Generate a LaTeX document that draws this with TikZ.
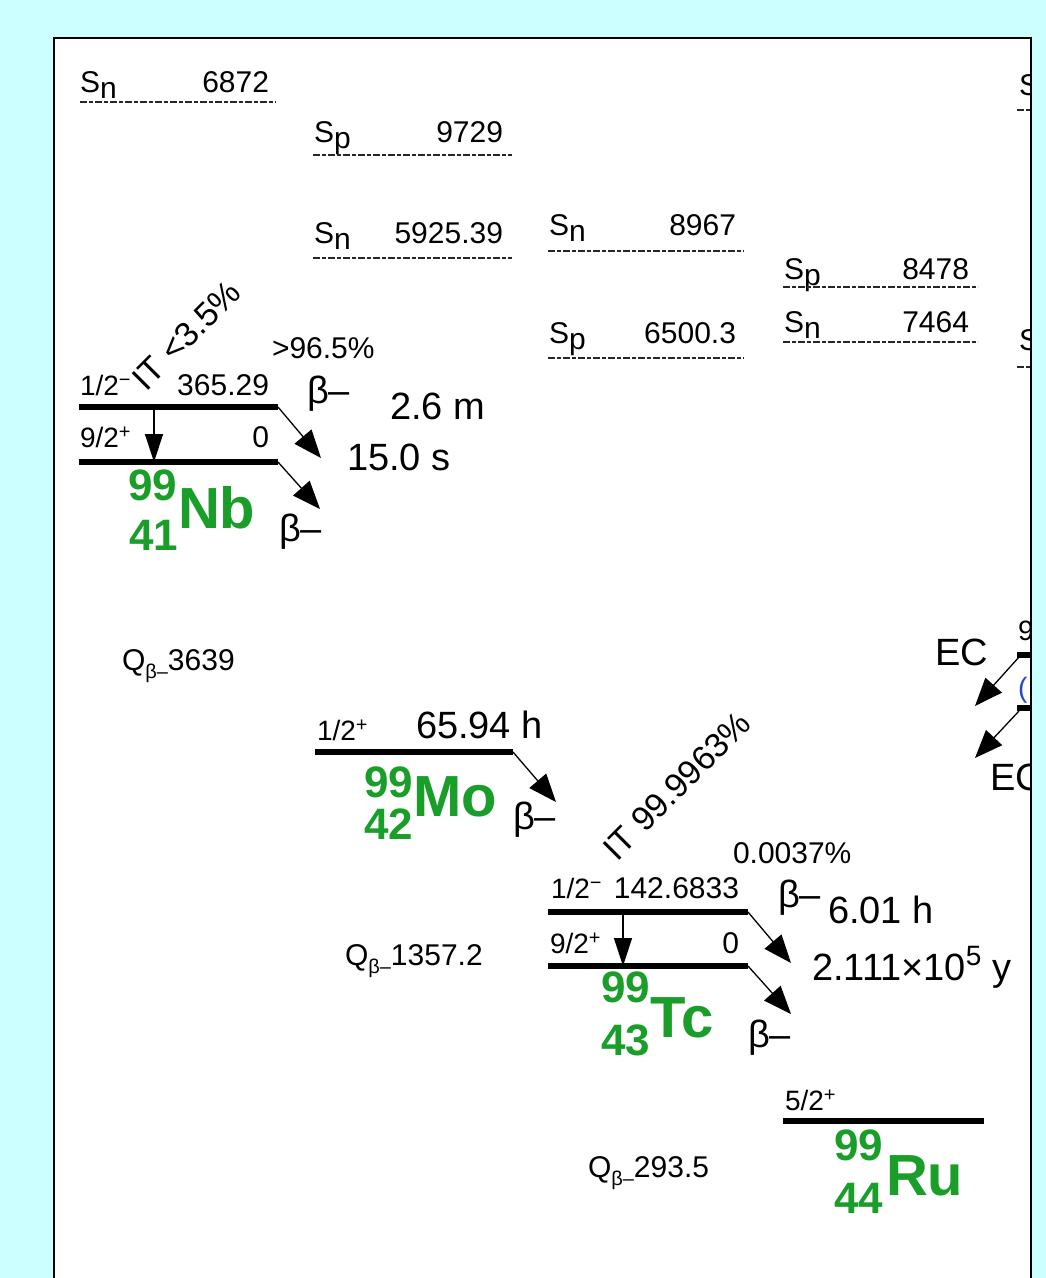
\documentclass[tikz,border=0pt]{standalone}
\usepackage{fontspec}
\setmainfont{Liberation Sans}
\usetikzlibrary{arrows.meta}
\definecolor{bgcyan}{RGB}{204,255,255}
\definecolor{nucgreen}{RGB}{26,158,42}
\definecolor{ecblue}{RGB}{40,70,190}
\newcommand\myfA{\fontsize{30}{30}\selectfont}
\newcommand\myfB{\fontsize{38}{38}\selectfont}
\newcommand\myfC{\fontsize{28}{28}\selectfont}
\newcommand\myfQ{\fontsize{30}{30}\selectfont}
\newcommand\myfS{\fontsize{20}{20}\selectfont}
\newcommand\myfN{\fontsize{58}{58}\selectfont\bfseries}
\newcommand\myfZ{\fontsize{44}{44}\selectfont\bfseries}
\newcommand\myspin[2]{#1\raisebox{9pt}{\myfS #2}}
\newcommand\mysub[1]{\raisebox{-6pt}{#1}}
\newcommand\myQ[1]{Q\raisebox{-8pt}{\myfS β–}#1}
\begin{document}
\begin{tikzpicture}[x=1pt,y=-1pt,
  every node/.style={inner sep=0pt, outer sep=0pt},
  lab/.style={font=\myfA},
  big/.style={font=\myfB},
  spinlab/.style={font=\myfC},
  qlab/.style={font=\myfQ},
  nuc/.style={font=\myfN, text=nucgreen},
  nucnum/.style={font=\myfZ, text=nucgreen},
  lvl/.style={line width=6pt},
  sepline/.style={line width=1.5pt, black!85, dash pattern=on 7pt off 2pt on 4pt off 2pt},
  decay/.style={line width=1.3pt, -{Triangle[length=28pt,width=22pt]}},
  itarrow/.style={line width=1.3pt, -{Triangle[length=28pt,width=18pt]}},
  rot/.style={font=\fontsize{34}{34}\selectfont, rotate=45, anchor=base west}
]
\useasboundingbox (0,0) rectangle (1046,1278);
\fill[bgcyan] (0,0) rectangle (1046,1278);
\fill[white] (54,38) rectangle (1031,1278);
\begin{scope}
\clip (54,38) rectangle (1031,1278);
% ---------- separation energies ----------
\node[lab, anchor=base west] (snA) at (80,92) {S\mysub{n}};
\node[lab, anchor=base east] (snAv) at (269,92) {6872};
\coordinate (snAl) at (80,102); \coordinate (snAr) at (276,102);
\draw[sepline] (snAl) -- (snAr);

\node[lab, anchor=base west] (spB) at (314,142) {S\mysub{p}};
\node[lab, anchor=base east] (spBv) at (503,142) {9729};
\coordinate (spBl) at (313,155); \coordinate (spBr) at (512,155);
\draw[sepline] (spBl) -- (spBr);

\node[lab, anchor=base west] (snB) at (314,243) {S\mysub{n}};
\node[lab, anchor=base east] (snBv) at (503,243) {5925.39};
\coordinate (snBl) at (313,258); \coordinate (snBr) at (512,258);
\draw[sepline] (snBl) -- (snBr);

\node[lab, anchor=base west] (snC) at (549,235) {S\mysub{n}};
\node[lab, anchor=base east] (snCv) at (736,235) {8967};
\coordinate (snCl) at (548,251); \coordinate (snCr) at (744,251);
\draw[sepline] (snCl) -- (snCr);

\node[lab, anchor=base west] (spC) at (549,343) {S\mysub{p}};
\node[lab, anchor=base east] (spCv) at (736,343) {6500.3};
\coordinate (spCl) at (548,358); \coordinate (spCr) at (744,358);
\draw[sepline] (spCl) -- (spCr);

\node[lab, anchor=base west] (spD) at (784,279) {S\mysub{p}};
\node[lab, anchor=base east] (spDv) at (969,279) {8478};
\coordinate (spDl) at (783,287); \coordinate (spDr) at (978,287);
\draw[sepline] (spDl) -- (spDr);

\node[lab, anchor=base west] (snD) at (784,332) {S\mysub{n}};
\node[lab, anchor=base east] (snDv) at (969,332) {7464};
\coordinate (snDl) at (783,342); \coordinate (snDr) at (978,342);
\draw[sepline] (snDl) -- (snDr);

\node[lab, anchor=base west] (snE) at (1019,95) {S\mysub{n}};
\coordinate (snEl) at (1017,110); \coordinate (snEr) at (1040,110);
\draw[sepline] (snEl) -- (snEr);
\node[lab, anchor=base west] (spE) at (1019,350) {S\mysub{p}};
\coordinate (spEl) at (1017,367); \coordinate (spEr) at (1040,367);
\draw[sepline] (spEl) -- (spEr);

% ---------- 99Nb ----------
\coordinate (nbmL) at (79,407); \coordinate (nbmR) at (278,407);
\coordinate (nbgL) at (79,462); \coordinate (nbgR) at (278,462);
\draw[lvl] (nbmL) -- (nbmR);
\draw[lvl] (nbgL) -- (nbgR);
\node[spinlab, anchor=base west] (nbms) at (80,395) {\myspin{1/2}{−}};
\node[lab, anchor=base east] (nbme) at (269,395) {365.29};
\node[spinlab, anchor=base west] (nbgs) at (80,447) {\myspin{9/2}{+}};
\node[lab, anchor=base east] (nbge) at (269,447) {0};
\coordinate (nbitA) at (154,407); \coordinate (nbitB) at (154,462);
\draw[itarrow] (nbitA) -- (nbitB);
\node[rot] (nbit) at (146,392) {IT <3.5\%};
\node[lab, anchor=base west] (nbbr) at (272,358) {>96.5\%};
\node[big, anchor=base west] (nbb1) at (307,403) {β–};
\node[big, anchor=base west] (nbt1) at (390,419) {2.6 m};
\node[big, anchor=base west] (nbt2) at (347,470) {15.0 s};
\coordinate (nbmT) at (321,458);
\coordinate (nbgT) at (320,509);
\draw[decay] (nbmR) -- (nbmT);
\draw[decay] (nbgR) -- (nbgT);
\node[big, anchor=base west] (nbb2) at (279,541) {β–};
\node[nucnum, anchor=base west] (nbA) at (128,500) {99};
\node[nucnum, anchor=base west] (nbZ) at (129,550) {41};
\node[nuc, anchor=base west] (nbS) at (178,528) {Nb};
\node[qlab, anchor=base west] (nbQ) at (122,670) {\myQ{3639}};

% ---------- 99Mo ----------
\coordinate (moL) at (315,752); \coordinate (moR) at (513,752);
\draw[lvl] (moL) -- (moR);
\node[spinlab, anchor=base west] (mos) at (317,740) {\myspin{1/2}{+}};
\node[big, anchor=base west] (mot) at (416,738) {65.94 h};
\coordinate (moT) at (556,802);
\draw[decay] (moR) -- (moT);
\node[big, anchor=base west] (mob) at (513,829) {β–};
\node[nucnum, anchor=base west] (moA) at (364,797) {99};
\node[nucnum, anchor=base west] (moZ) at (364,839) {42};
\node[nuc, anchor=base west] (moS) at (413,816) {Mo};
\node[qlab, anchor=base west] (moQ) at (345,965) {\myQ{1357.2}};

% ---------- 99Tc ----------
\coordinate (tcmL) at (548,912); \coordinate (tcmR) at (748,912);
\coordinate (tcgL) at (548,966); \coordinate (tcgR) at (748,966);
\draw[lvl] (tcmL) -- (tcmR);
\draw[lvl] (tcgL) -- (tcgR);
\node[spinlab, anchor=base west] (tcms) at (551,898) {\myspin{1/2}{−}};
\node[lab, anchor=base east] (tcme) at (739,898) {142.6833};
\node[spinlab, anchor=base west] (tcgs) at (550,953) {\myspin{9/2}{+}};
\node[lab, anchor=base east] (tcge) at (739,953) {0};
\coordinate (tcitA) at (623,912); \coordinate (tcitB) at (623,966);
\draw[itarrow] (tcitA) -- (tcitB);
\node[rot] (tcit) at (617,862) {IT 99.9963\%};
\node[lab, anchor=base west] (tcbr) at (733,863) {0.0037\%};
\node[big, anchor=base west] (tcb1) at (778,907) {β–};
\node[big, anchor=base west] (tct1) at (828,923) {6.01 h};
\node[big, anchor=base west] (tct2) at (812,980) {2.111×10\raisebox{15pt}{\myfC 5} y};
\coordinate (tcmT) at (791,963);
\coordinate (tcgT) at (791,1014);
\draw[decay] (tcmR) -- (tcmT);
\draw[decay] (tcgR) -- (tcgT);
\node[big, anchor=base west] (tcb2) at (748,1047) {β–};
\node[nucnum, anchor=base west] (tcA) at (601,1002) {99};
\node[nucnum, anchor=base west] (tcZ) at (601,1055) {43};
\node[nuc, anchor=base west] (tcS) at (650,1037) {Tc};
\node[qlab, anchor=base west] (tcQ) at (588,1177) {\myQ{293.5}};

% ---------- 99Ru ----------
\coordinate (ruL) at (783,1121); \coordinate (ruR) at (984,1121);
\draw[lvl] (ruL) -- (ruR);
\node[spinlab, anchor=base west] (rus) at (785,1110) {\myspin{5/2}{+}};
\node[nucnum, anchor=base west] (ruA) at (834,1160) {99};
\node[nucnum, anchor=base west] (ruZ) at (834,1213) {44};
\node[nuc, anchor=base west] (ruS) at (886,1195) {Ru};

% ---------- right edge (EC) ----------
\coordinate (ecaL) at (1017,655); \coordinate (ecaR) at (1045,655);
\coordinate (ecbL) at (1017,708); \coordinate (ecbR) at (1045,708);
\draw[lvl] (ecaL) -- (ecaR);
\draw[lvl] (ecbL) -- (ecbR);
\node[spinlab, anchor=base west] (ecas) at (1018,640) {9};
\node[spinlab, anchor=base west, text=ecblue] (ecbs) at (1018,697) {(};
\coordinate (ecaS) at (1019,657); \coordinate (ecaT) at (975,706);
\coordinate (ecbS) at (1019,711); \coordinate (ecbT) at (975,758);
\draw[decay] (ecaS) -- (ecaT);
\draw[decay] (ecbS) -- (ecbT);
\node[big, anchor=base west] (ecal) at (935,665) {EC};
\node[big, anchor=base west] (ecbl) at (990,790) {EC};
\end{scope}
\draw[line width=2.5pt] (54,1279) -- (54,38) -- (1031,38) -- (1031,1279);
\end{tikzpicture}
\end{document}
